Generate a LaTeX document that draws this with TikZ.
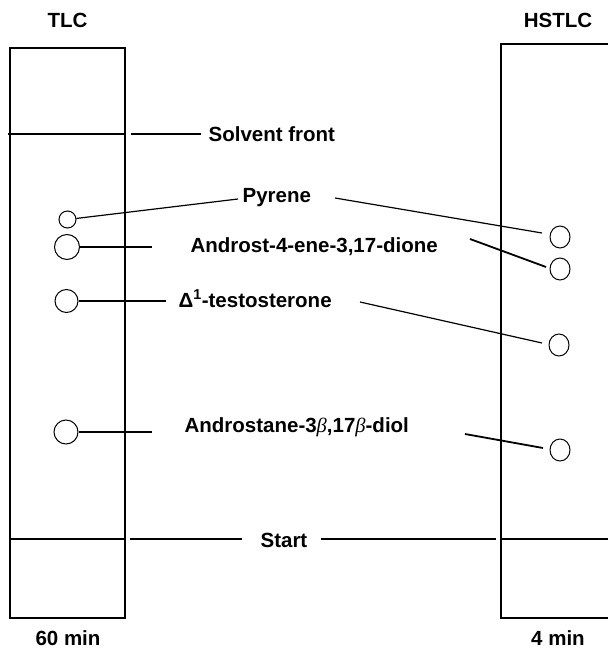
\documentclass[tikz,border=0pt]{standalone}
\usepackage{fontspec}
\setmainfont{Liberation Sans}
\newfontfamily\grkfont{Liberation Serif}
\usetikzlibrary{shapes.geometric}
\newcommand{\itbeta}{{\grkfont\mdseries\itshape β}}
\begin{document}
\begin{tikzpicture}[x=1pt,y=-1pt,
  line width=1.2pt,
  lbl/.style={inner sep=0pt, font=\fontsize{20.5}{24}\selectfont\bfseries},
  spotL/.style={draw, circle, line width=1pt, inner sep=0pt, minimum size=#1},
  spotR/.style={draw, ellipse, line width=1pt, inner sep=0pt, minimum width=20pt, minimum height=22pt},
  thk/.style={line width=1.8pt},
  plate/.style={line width=1.2pt}]
\useasboundingbox (0,0) rectangle (607,652);

% plates
\draw[plate] (10,48) rectangle (125,618);
\draw[plate] (8,134) -- (125,134);
\draw[plate] (10,539) -- (125,539);
\draw[plate] (608,44) -- (501,44) -- (501,618) -- (608,618);
\draw[plate] (501,539) -- (608,539);

% headings
\node[lbl, anchor=base] (tlc) at (67.5,28) {TLC};
\node[lbl, anchor=base] (hstlc) at (558,28) {HSTLC};
\node[lbl, anchor=base] (min60) at (68,645) {60 min};
\node[lbl, anchor=base] (min4) at (558,645) {4 min};

% labels
\node[lbl, anchor=base west] (solvent) at (208,141.5) {Solvent front};
\node[lbl, anchor=base west] (pyrene) at (242,202.5) {Pyrene};
\node[lbl, anchor=base west] (andro) at (190,252) {Androst-4-ene-3,17-dione};
\node[lbl, anchor=base west] (testo) at (178,307) {Δ\textsuperscript{1}-testosterone};
\node[lbl, anchor=base west] (andros) at (184,432) {Androstane-3\itbeta,17\itbeta-diol};
\node[lbl, anchor=base west] (start) at (260,547) {Start};

% spots TLC
\node[spotL=17pt] (pyL) at (67.5,219.5) {};
\node[spotL=25pt] (anL) at (67,247) {};
\node[spotL=23pt] (teL) at (66.5,301) {};
\node[spotL=24pt] (adL) at (66,432) {};

% spots HSTLC
\node[spotR] (pyR) at (560,237) {};
\node[spotR] (anR) at (560,269) {};
\node[spotR] (teR) at (559,345) {};
\node[spotR] (adR) at (560,450) {};

% connector ends
\coordinate (sfA) at (131,134);
\coordinate (sfB) at (201,134);
\coordinate (pyA) at (238,199);
\coordinate (pyB) at (335,198);
\coordinate (pyC) at (542,233);
\coordinate (anA) at (152,247);
\coordinate (anB) at (470,239);
\coordinate (anC) at (546,267);
\coordinate (teA) at (166,301);
\coordinate (teB) at (360,302);
\coordinate (teC) at (542,343);
\coordinate (adA) at (152,432);
\coordinate (adB) at (465,434);
\coordinate (adC) at (543,448);
\coordinate (stA) at (130,539);
\coordinate (stB) at (242,539);
\coordinate (stC) at (321,539);
\coordinate (stD) at (496,539);

% connectors
\draw (sfA) -- (sfB);
\draw (pyL) -- (pyA);
\draw (pyB) -- (pyC);
\draw[thk] (anL.east) -- (anA);
\draw[thk] (anB) -- (anC);
\draw (teL.east) -- (teA);
\draw (teB) -- (teC);
\draw[thk] (adL.east) -- (adA);
\draw[thk] (adB) -- (adC);
\draw (stA) -- (stB);
\draw (stC) -- (stD);
\end{tikzpicture}
\end{document}
